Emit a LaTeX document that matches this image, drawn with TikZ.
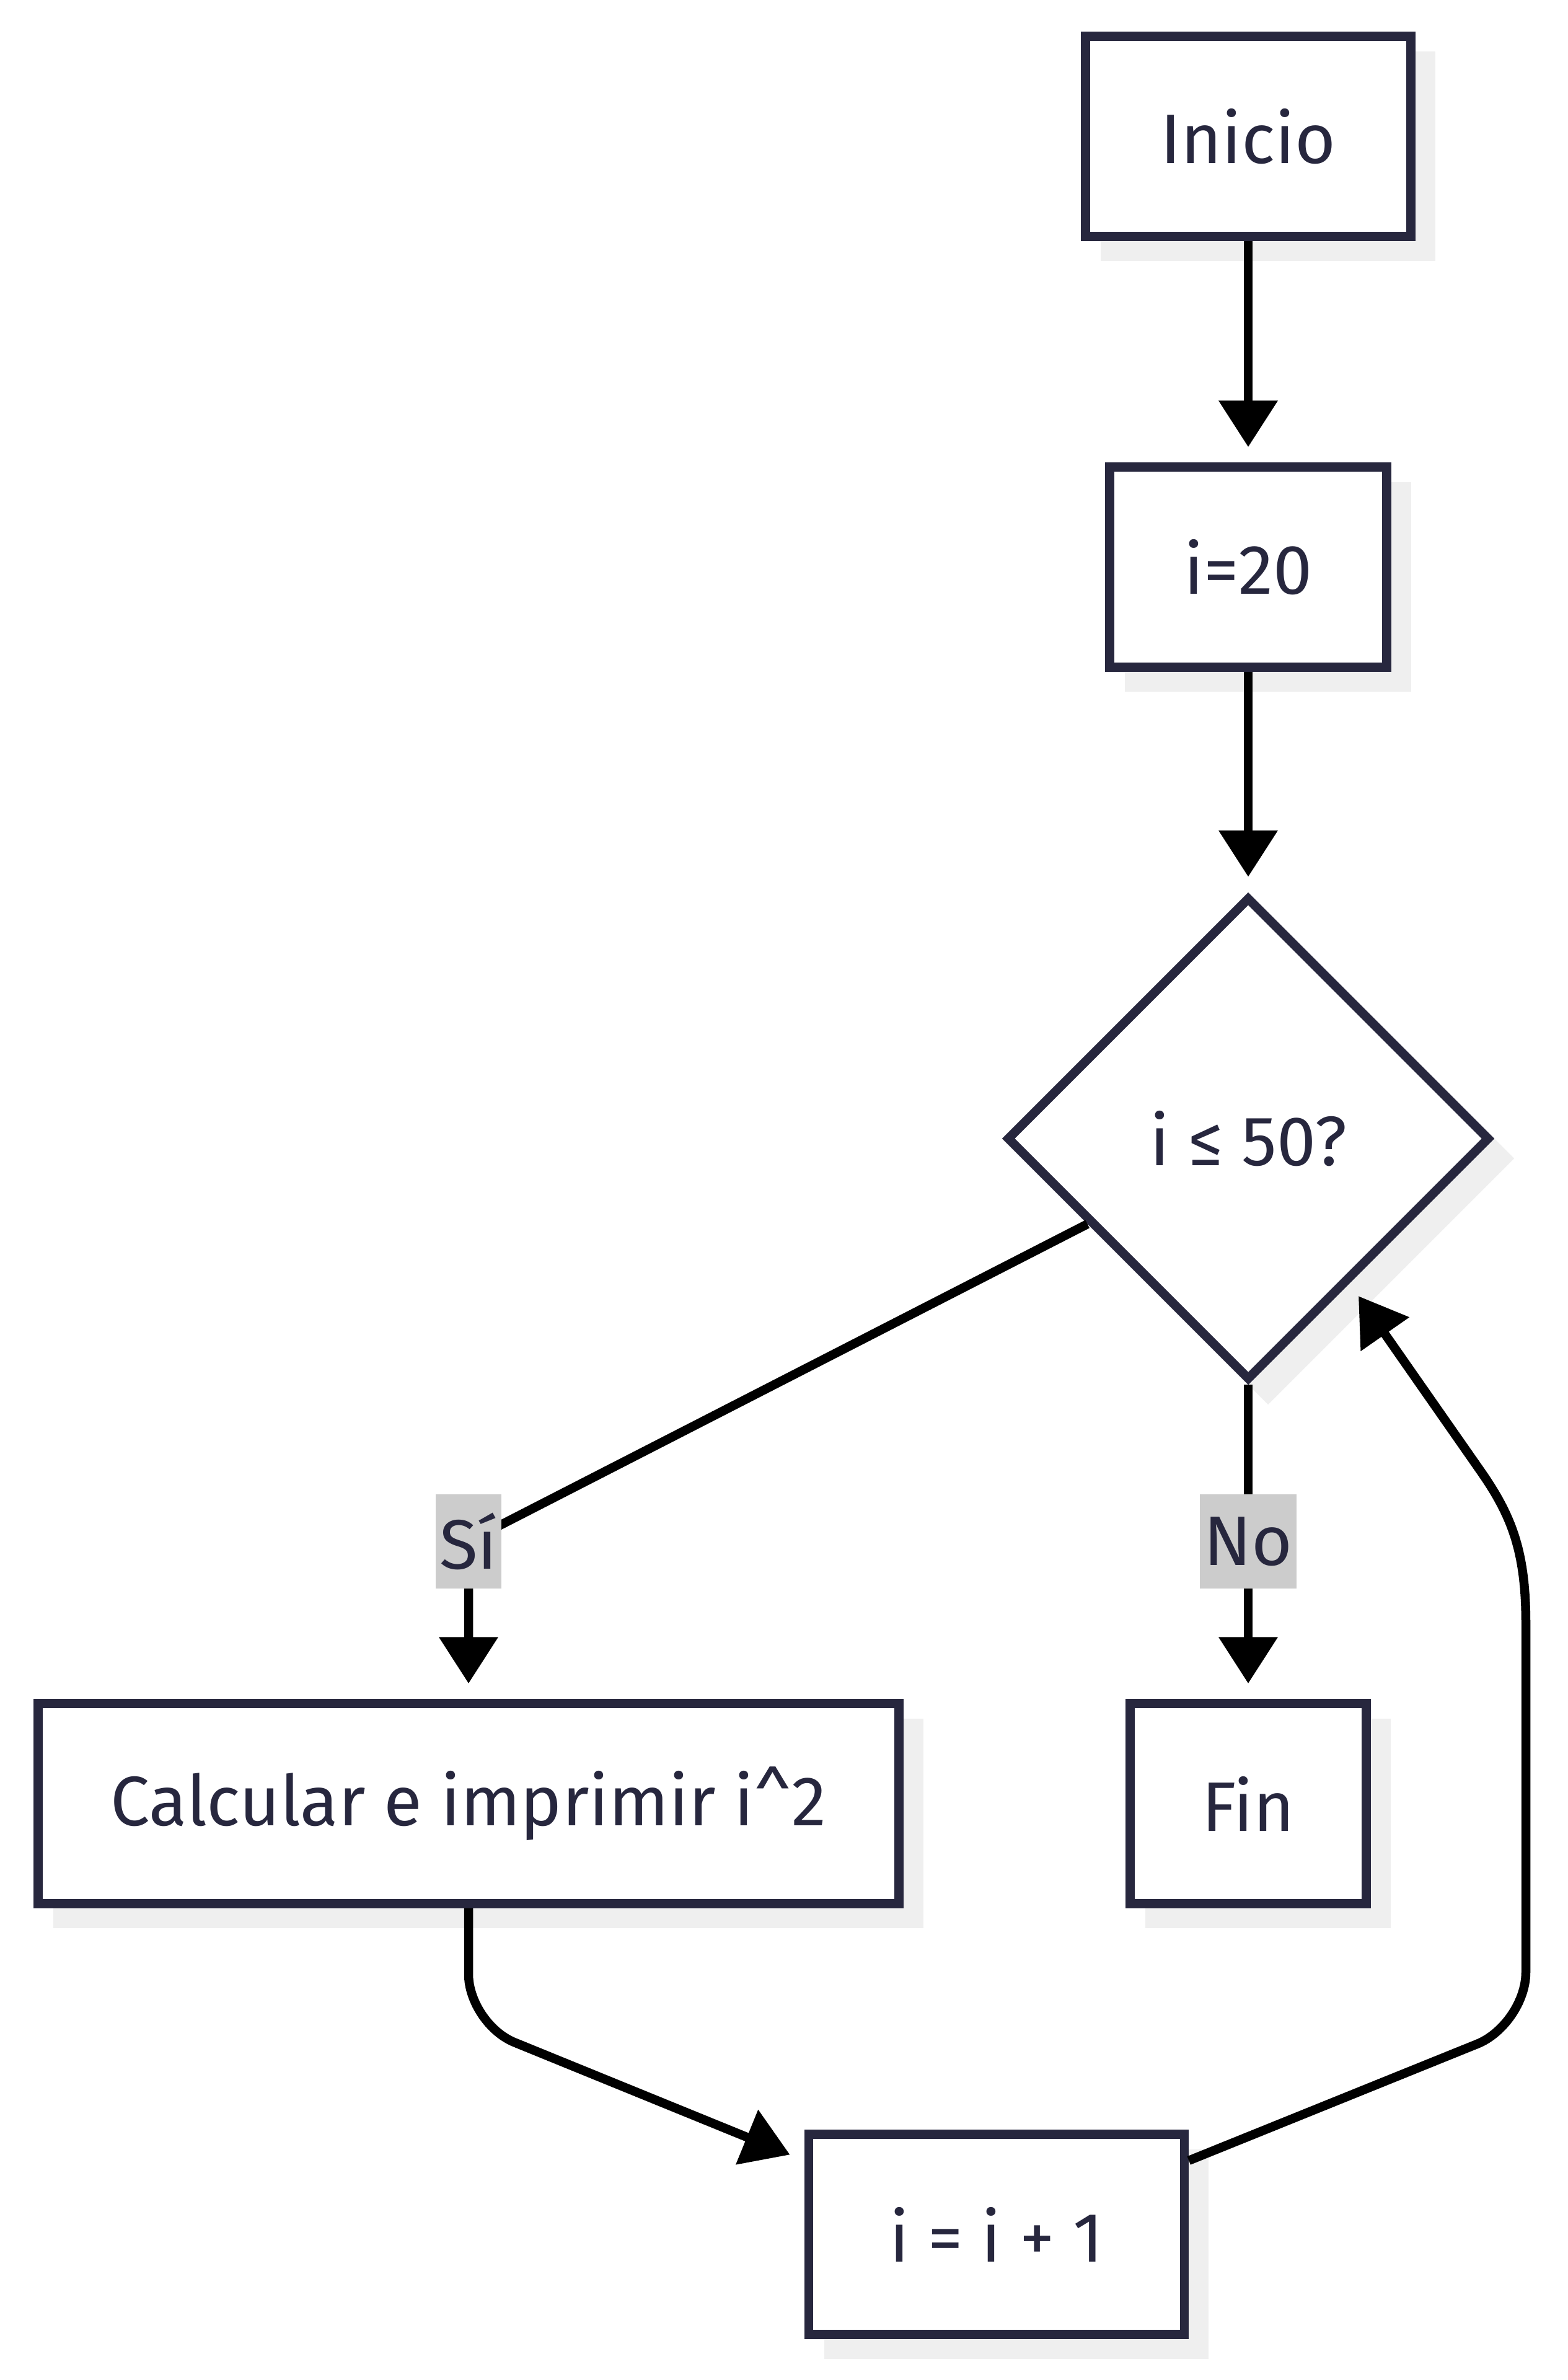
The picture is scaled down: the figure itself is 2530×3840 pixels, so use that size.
\documentclass[tikz,border=0pt]{standalone}
\usepackage{fontspec}
\setmainfont{Fira Sans}
\usetikzlibrary{arrows.meta,shapes.geometric,shadows}
\definecolor{ink}{RGB}{39,39,62}
\definecolor{shade}{RGB}{239,239,239}
\definecolor{lblbg}{RGB}{204,204,204}
\begin{document}
\begin{tikzpicture}[x=0.1pt,y=-0.1pt,
  box/.style={draw=ink, line width=1.45pt, fill=white, text=ink,
    font=\fontsize{11.3pt}{13pt}\selectfont, minimum height=32.3pt, inner sep=0pt,
    drop shadow={shadow xshift=3.2pt, shadow yshift=-3.2pt, fill=shade, draw=shade, opacity=1}},
  dec/.style={box, diamond, aspect=1, minimum width=78pt, minimum height=78pt},
  lbl/.style={fill=lblbg, text=ink, font=\fontsize{11.3pt}{13pt}\selectfont,
    inner xsep=0.6pt, inner ysep=0pt, minimum height=15.2pt},
  edge/.style={draw=black, line width=1.45pt, -{Triangle[length=7.5pt,width=9.2pt]}, shorten >=2.5pt},
]
\useasboundingbox (0,0) rectangle (2530,3840);
% nodes
\node[box, minimum width=52.5pt] (ini) at (2014,220) {Inicio};
\node[box, minimum width=44.7pt] (i20) at (2014,915) {i=20};
\node[dec] (d) at (2014,1837) {i ≤ 50?};
\node[box, minimum width=138.9pt] (calc) at (756,2910) {Calcular e imprimir i\textasciicircum 2};
\node[box, minimum width=38.1pt] (fin) at (2014,2910) {Fin};
\node[box, minimum width=60.6pt] (ii) at (1608,3605) {i = i + 1};
% waypoints
\coordinate (sip) at (756,2487);
\coordinate (nop) at (2014,2487);
\coordinate (c1) at (756,3265);
\coordinate (pA) at (2383,3298);
\coordinate (pB) at (2462,3182);
\coordinate (r2) at (2462,2620);
\coordinate (r3) at (2390,2375);
% edges
\draw[edge] (ini) -- (i20);
\draw[edge] (i20) -- (d);
\draw[edge] (d.208) -- (sip) -- (calc.north);
\draw[edge] (d.south) -- (nop) -- (fin.north);
\draw[edge, rounded corners=8pt] (calc.south) -- (c1) -- (ii.159);
\draw[edge] (ii.21) -- (pA) .. controls (2426,3281) and (2462,3229) .. (pB) -- (r2)
  .. controls (2462,2505) and (2440,2447) .. (r3) -- (d.-55);
% edge labels
\node[lbl] (si) at (sip) {Sí};
\node[lbl] (no) at (nop) {No};
\end{tikzpicture}
\end{document}
